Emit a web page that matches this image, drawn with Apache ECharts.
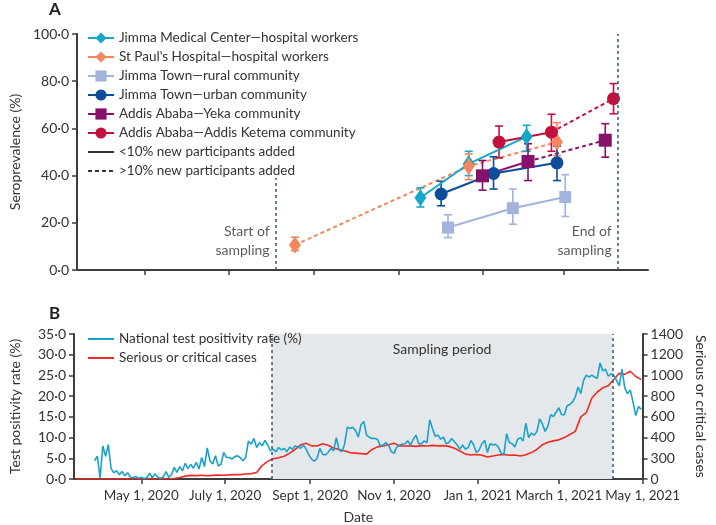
<!DOCTYPE html>
<html><head><meta charset="utf-8">
<script src="https://cdn.jsdelivr.net/npm/echarts@6/dist/echarts.min.js"></script>
<style>html,body{margin:0;padding:0;background:#fff}#c{width:716px;height:525px}</style>
</head><body><div id="c"></div>
<script>
// ---------- shared axis data ----------
const refDate = '2020-05-01';
const xMinDate = '2020-03-13';
const xMaxDate = '2021-05-01';
const xTickDates = ['2020-05-01','2020-07-01','2020-09-01','2020-11-01','2021-01-01','2021-03-01','2021-05-01'];
const xTickLabels = ['May 1, 2020','July 1, 2020','Sept 1, 2020','Nov 1, 2020','Jan 1, 2021','March 1, 2021','May 1, 2021'];
const samplingStart = '2020-08-04';
const samplingEnd = '2021-04-09';
const casesTickLabels = ['0','300','400','600','800','1000','1200','1400'];

// ---------- panel A: seroprevalence ----------
const jmcDates = ['2020-11-17','2020-12-22','2021-02-02'];
const jmcValues = [30.6, 45.0, 56.5];
const jmcLow = [26.7, 40.0, 50.3];
const jmcHigh = [34.8, 50.3, 61.3];
const jmcDashed = [false, false];

const stpDates = ['2020-08-18','2020-12-22','2021-02-24'];
const stpValues = [10.6, 44.0, 54.2];
const stpLow = [8.2, 38.3, 48.5];
const stpHigh = [13.9, 49.2, 62.4];
const stpDashed = [true, true];

const ruralDates = ['2020-12-07','2021-01-23','2021-03-02'];
const ruralValues = [18.0, 26.2, 30.9];
const ruralLow = [13.7, 19.4, 22.7];
const ruralHigh = [23.4, 34.3, 40.4];
const ruralDashed = [false, false];

const urbanDates = ['2020-12-02','2021-01-09','2021-02-24'];
const urbanValues = [32.2, 40.9, 45.4];
const urbanLow = [27.2, 34.3, 37.9];
const urbanHigh = [37.6, 48.0, 52.5];
const urbanDashed = [false, false];

const yekaDates = ['2021-01-01','2021-02-03','2021-03-31'];
const yekaValues = [39.9, 46.0, 55.0];
const yekaLow = [33.8, 37.9, 47.8];
const yekaHigh = [46.4, 53.5, 62.0];
const yekaDashed = [false, true];

const ketemaDates = ['2021-01-13','2021-02-20','2021-04-06'];
const ketemaValues = [54.2, 58.4, 72.6];
const ketemaLow = [47.5, 50.3, 66.2];
const ketemaHigh = [61.0, 66.0, 79.0];
const ketemaDashed = [false, true];

// ---------- panel B: daily series ----------
const tprStart = '2020-03-28';
const tprStepDays = 2;
const tprValues = [
 4.4,5.5,0.2,8.0,5.5,8.3,2.5,1.5,2.0,1.0,1.8,0.8,1.5,0.5,0.3,0.6,0.2,
 0.4,0.1,0.3,1.4,0.3,1.3,0.4,0.2,0.5,1.8,0.4,1.1,2.8,1.6,3.0,2.0,3.8,2.5,3.5,2.6,4.0,2.4,5.2,3.0,
 7.5,4.4,3.6,5.6,3.2,3.5,6.4,5.2,5.2,4.8,5.4,5.6,5.2,4.4,5.2,9.2,8.4,9.8,7.6,8.8,8.0,9.3,8.2,6.8,
 7.2,6.6,7.6,7.0,7.4,6.6,7.7,7.2,8.0,7.7,7.4,8.2,7.2,5.8,4.8,4.3,5.0,7.4,6.0,5.8,6.4,7.4,6.8,10.0,
 7.0,6.6,8.4,12.5,12.2,12.5,11.7,10.1,13.1,13.9,10.6,10.1,9.8,9.8,9.6,8.0,8.2,8.8,8.2,6.6,6.2,7.7,
 8.2,8.4,8.5,9.2,8.2,9.6,10.6,8.5,8.5,9.2,8.8,14.3,12.2,10.3,10.6,9.6,10.1,8.5,8.8,9.8,9.0,8.2,7.2,
 8.2,7.2,7.6,9.3,8.2,6.4,7.0,8.5,9.3,6.4,8.5,8.2,8.4,7.7,6.2,6.0,10.9,8.8,8.5,7.7,9.6,10.0,9.2,13.5,
 10.0,11.1,10.6,11.4,14.5,13.3,11.5,12.7,15.5,15.1,16.1,17.2,15.5,15.5,17.7,18.0,18.6,19.8,22.2,20.6,
 23.8,25.1,24.6,25.1,24.6,24.3,28.0,26.1,26.5,24.8,25.4,25.0,23.8,22.5,26.5,22.0,20.6,21.5,18.6,15.3,
 17.5,16.8
];
const casesStart = '2020-03-14';
const casesStepDays = 4;
const casesValues = [
 0,0,0,0,0,0,0,0,0,0,0,0,0,0,0,0,0,2,5,15,28,35,33,36,32,35,37,36,40,42,42,48,52,62,130,170,
 195,205,220,250,285,330,345,320,318,340,325,300,285,270,255,250,245,240,285,310,318,330,345,320,
 318,320,315,322,318,325,320,322,315,296,270,240,232,236,230,212,222,232,238,230,232,222,235,255,
 285,330,355,368,378,400,430,460,600,640,780,840,880,900,960,1020,1010,1040,990,960
];

// ---------- helpers ----------
const DAY = 86400000;
const dayOf = s => (Date.parse(s) - Date.parse(refDate)) / DAY;
const dot = v => v.toFixed(1).replace('.', '\u00b7');
const FONT = 'Lato';
const AX = '#3d3d3d';
const TXT = '#333';

const groups = [
 {name:'Jimma Medical Center\u2014hospital workers', color:'#16a6c9', symbol:'diamond', size:[12,17], d:jmcDates, v:jmcValues, lo:jmcLow, hi:jmcHigh, dash:jmcDashed},
 {name:"St Paul's Hospital\u2014hospital workers", color:'#f4865e', symbol:'diamond', size:[12,17], d:stpDates, v:stpValues, lo:stpLow, hi:stpHigh, dash:stpDashed},
 {name:'Jimma Town\u2014rural community', color:'#a2b3dc', symbol:'rect', size:12, d:ruralDates, v:ruralValues, lo:ruralLow, hi:ruralHigh, dash:ruralDashed},
 {name:'Jimma Town\u2014urban community', color:'#0b4c9b', symbol:'circle', size:13, d:urbanDates, v:urbanValues, lo:urbanLow, hi:urbanHigh, dash:urbanDashed},
 {name:'Addis Ababa\u2014Yeka community', color:'#86106a', symbol:'rect', size:13, d:yekaDates, v:yekaValues, lo:yekaLow, hi:yekaHigh, dash:yekaDashed},
 {name:'Addis Ababa\u2014Addis Ketema community', color:'#c1123e', symbol:'circle', size:13, d:ketemaDates, v:ketemaValues, lo:ketemaLow, hi:ketemaHigh, dash:ketemaDashed}
];

const series = [];
groups.forEach(g => {
  const pts = g.d.map((s,i) => [dayOf(s), g.v[i]]);
  const main = [];
  pts.forEach((p,i) => {
    main.push(p);
    if (i < pts.length-1 && g.dash[i]) main.push([(p[0]+pts[i+1][0])/2, '-']);
  });
  const dashed = [];
  pts.forEach((p,i) => {
    const adj = (i>0 && g.dash[i-1]) || (i<pts.length-1 && g.dash[i]);
    if (adj) dashed.push(p);
    if (i < pts.length-1 && !g.dash[i] && dashed.length) dashed.push([(p[0]+pts[i+1][0])/2, '-']);
  });
  if (dashed.length) series.push({type:'line', xAxisIndex:0, yAxisIndex:0, silent:true, z:2,
    data:dashed, symbol:'none', connectNulls:false, color:g.color,
    lineStyle:{color:g.color, width:2, type:[4,3]}});
  series.push({type:'custom', xAxisIndex:0, yAxisIndex:0, silent:true, z:3,
    data: pts.map((p,i)=>[p[0], g.lo[i], g.hi[i]]),
    encode:{x:0, y:[1,2]},
    renderItem:(params, api) => {
      const a = api.coord([api.value(0), api.value(1)]);
      const b = api.coord([api.value(0), api.value(2)]);
      const w = 4, st = {stroke:g.color, lineWidth:1.6};
      return {type:'group', children:[
        {type:'line', shape:{x1:a[0],y1:a[1],x2:b[0],y2:b[1]}, style:st},
        {type:'line', shape:{x1:a[0]-w,y1:a[1],x2:a[0]+w,y2:a[1]}, style:st},
        {type:'line', shape:{x1:b[0]-w,y1:b[1],x2:b[0]+w,y2:b[1]}, style:st}
      ]};
    }});
  series.push({name:g.name, type:'line', xAxisIndex:0, yAxisIndex:0, z:4, silent:true,
    data:main, symbol:g.symbol, symbolSize:g.size, showSymbol:true, showAllSymbol:true,
    connectNulls:false, color:g.color,
    itemStyle:{color:g.color}, lineStyle:{color:g.color, width:2, type:'solid'}});
});
series.push({name:'<10% new participants added', type:'line', xAxisIndex:0, yAxisIndex:0, data:[], symbol:'none', color:'#333', lineStyle:{color:'#333', width:1.6, type:'solid'}});
series.push({name:'>10% new participants added', type:'line', xAxisIndex:0, yAxisIndex:0, data:[], symbol:'none', color:'#333', lineStyle:{color:'#333', width:1.6, type:[4,3]}});

const vline = {color:'#2f5a73', width:1.5, type:[3,3]};
series.push({type:'scatter', xAxisIndex:0, yAxisIndex:0, silent:true, z:1, symbolSize:0,
  data:[{value:[dayOf(samplingStart), 12.5], label:{formatter:'Start of\nsampling'}},
        {value:[dayOf(samplingEnd), 12.5], label:{formatter:'End of\nsampling'}}],
  label:{show:true, position:'left', distance:6, align:'right', fontFamily:FONT, fontSize:14, lineHeight:19, color:TXT},
  markLine:{silent:true, symbol:'none', label:{show:false}, lineStyle:vline, animation:false,
    data:[[{coord:[dayOf(samplingStart),0]},{coord:[dayOf(samplingStart),39]}],
          [{coord:[dayOf(samplingEnd),0]},{coord:[dayOf(samplingEnd),100]}]]}
});

const tprData = tprValues.map((v,i)=>[dayOf(tprStart)+i*tprStepDays, v]);
const casesData = casesValues.map((v,i)=>[dayOf(casesStart)+i*casesStepDays, v]);
series.push({name:'National test positivity rate (%)', type:'line', xAxisIndex:1, yAxisIndex:1, z:4,
  data:tprData, symbol:'none', color:'#1ba2c9', lineStyle:{color:'#1ba2c9', width:1.6},
  markArea:{silent:true, itemStyle:{color:'#e5e8eb'},
    label:{show:true, position:'insideTop', distance:8, fontFamily:FONT, fontSize:14, color:TXT},
    data:[[{name:'Sampling period', xAxis:dayOf(samplingStart)},{xAxis:dayOf(samplingEnd)}]]},
  markLine:{silent:true, symbol:'none', label:{show:false}, lineStyle:vline, animation:false,
    data:[{xAxis:dayOf(samplingStart)},{xAxis:dayOf(samplingEnd)}]}
});
series.push({name:'Serious or critical cases', type:'line', xAxisIndex:1, yAxisIndex:2, z:3,
  data:casesData, symbol:'none', color:'#ee2b25', lineStyle:{color:'#ee2b25', width:1.6}});

const tickVals = xTickDates.map(dayOf);
const axLine = {show:true, onZero:false, lineStyle:{color:AX, width:2}};
const tick = {show:true, length:5, lineStyle:{color:AX, width:1.5}};
const lbl = {fontFamily:FONT, fontSize:14, color:TXT};
const noSym = {opacity:0};
const lineOnly = name => ({name, itemStyle:noSym});

const option = {
  animation:false,
  textStyle:{fontFamily:FONT},
  grid:[{left:71, right:68, top:34, height:236},{left:71, right:68, top:334, height:148}],
  legend:[
    {left:82, top:26, orient:'vertical', itemWidth:26, itemHeight:14, itemGap:5, selectedMode:false,
     textStyle:{fontFamily:FONT, fontSize:13.5, color:TXT},
     data:groups.map(g=>g.name).concat([lineOnly('<10% new participants added'), lineOnly('>10% new participants added')])},
    {left:82, top:327, orient:'vertical', itemWidth:26, itemHeight:14, itemGap:5, selectedMode:false,
     textStyle:{fontFamily:FONT, fontSize:13.5, color:TXT},
     data:[lineOnly('National test positivity rate (%)'), lineOnly('Serious or critical cases')]}
  ],
  xAxis:[
    {gridIndex:0, type:'value', min:dayOf(xMinDate), max:dayOf(xMaxDate), axisLine:axLine,
     axisTick:{...tick, customValues:tickVals.slice(0,6)}, axisLabel:{show:false}, splitLine:{show:false}},
    {gridIndex:1, type:'value', min:dayOf(xMinDate), max:dayOf(xMaxDate), axisLine:axLine,
     axisTick:{...tick, customValues:tickVals},
     axisLabel:{...lbl, fontSize:13.5, margin:10, customValues:tickVals, formatter:v=>xTickLabels[tickVals.indexOf(v)] ?? ''},
     splitLine:{show:false},
     name:'Date', nameLocation:'middle', nameGap:31, nameTextStyle:{...lbl}}
  ],
  yAxis:[
    {gridIndex:0, type:'value', min:0, max:100, interval:20, axisLine:axLine, axisTick:tick,
     axisLabel:{...lbl, margin:8, formatter:dot}, splitLine:{show:false},
     name:'Seroprevalence (%)', nameLocation:'middle', nameGap:52, nameTextStyle:{...lbl}},
    {gridIndex:1, type:'value', min:0, max:35, interval:5, axisLine:axLine, axisTick:tick,
     axisLabel:{...lbl, margin:8, formatter:dot}, splitLine:{show:false},
     name:'Test positivity rate (%)', nameLocation:'middle', nameGap:52, nameTextStyle:{...lbl}},
    {gridIndex:1, type:'value', position:'right', min:0, max:1400, interval:200, axisLine:axLine, axisTick:tick,
     axisLabel:{...lbl, margin:8, formatter:v=>casesTickLabels[Math.round(v/200)]}, splitLine:{show:false},
     name:'Serious or critical cases', nameLocation:'middle', nameGap:50, nameRotate:-90, nameTextStyle:{...lbl}}
  ],
  graphic:[
    {type:'text', left:49, top:1, style:{text:'A', font:'bold 17px '+FONT, fill:'#222'}},
    {type:'text', left:49, top:305, style:{text:'B', font:'bold 17px '+FONT, fill:'#222'}}
  ],
  series
};
const chart = echarts.init(document.getElementById('c'), null, {renderer:'canvas'});
chart.setOption(option);
</script></body></html>
